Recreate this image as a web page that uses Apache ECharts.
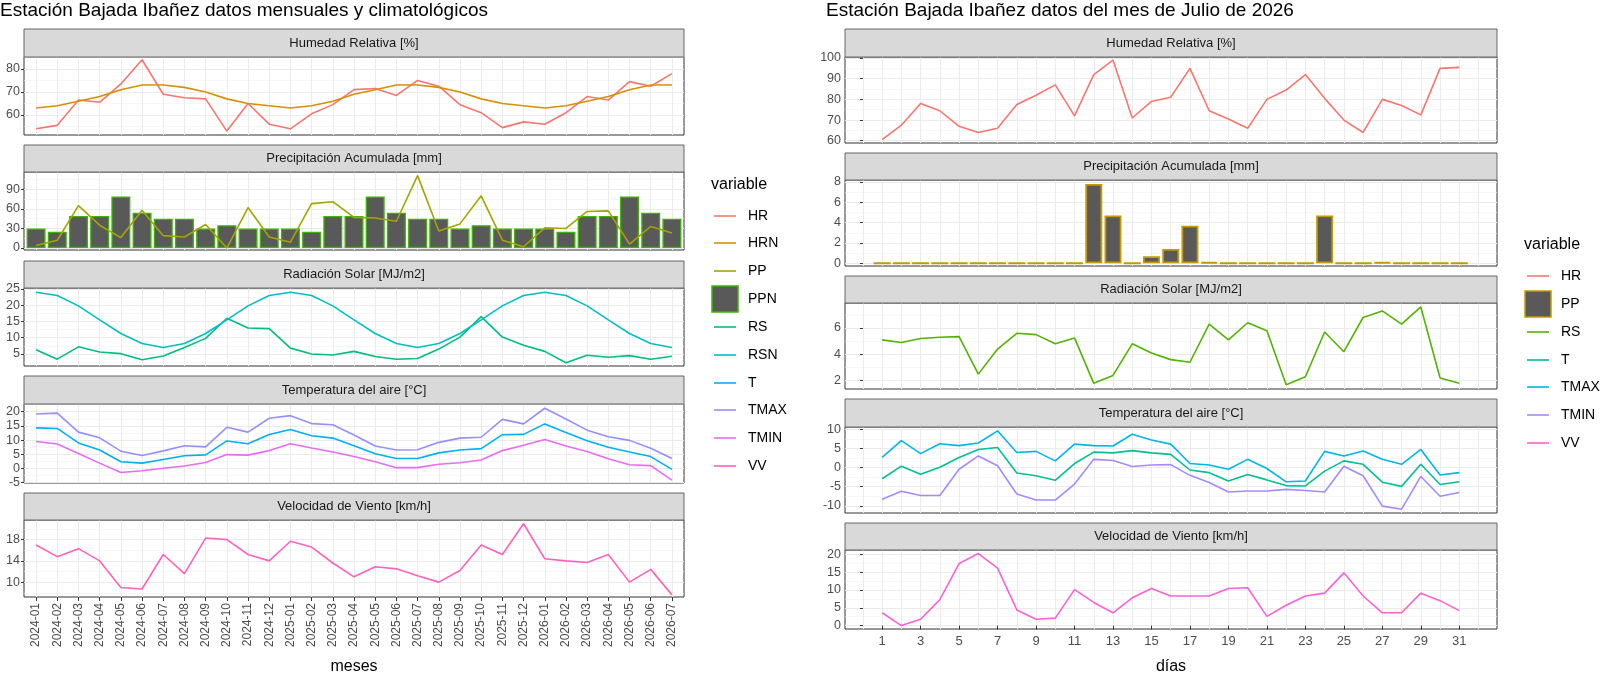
<!DOCTYPE html>
<html><head><meta charset="utf-8">
<script src="https://cdn.jsdelivr.net/npm/echarts@6/dist/echarts.min.js"></script>
<style>html,body{margin:0;padding:0;background:#fff}#c{width:1600px;height:676px}</style>
</head><body><div id="c"></div>
<script>
// ---------- DATA ----------
const months = ['2024-01','2024-02','2024-03','2024-04','2024-05','2024-06','2024-07','2024-08','2024-09','2024-10','2024-11','2024-12',
 '2025-01','2025-02','2025-03','2025-04','2025-05','2025-06','2025-07','2025-08','2025-09','2025-10','2025-11','2025-12',
 '2026-01','2026-02','2026-03','2026-04','2026-05','2026-06','2026-07'];
const mHR  = [54,55.5,66.5,65.5,73.5,84,69,67.5,67,53,65,56,54,60.5,64.5,71,71.5,68.5,75,72.5,64.5,61,54.5,57,56,61,68,66.5,74.5,72.5,78];
const mHRN = [63,64,66,68,71,73,73,72,70,67,65,64,63,64,66,69,71,73,73,72,70,67,65,64,63,64,66,68,71,73,73];
const mPP  = [4,12,65,35,16,58,19,17,36,0,62,17,9,68,71,47,46,41,111,26,37,80,12,2,31,30,56,57,6,33,23];
const mPPN = [30,25,49,49,79,54,45,45,30,35,30,30,30,25,49,49,79,54,45,45,30,35,30,30,30,25,49,49,79,54,45];
const mRS  = [6.3,3.4,7.2,5.6,5.1,3.2,4.4,7,9.8,16,13,12.8,6.8,5,4.7,5.8,4.2,3.4,3.6,6.5,10.2,16.5,10.2,7.7,5.8,2.3,4.6,4,4.5,3.4,4.3];
const mRSN = [24,23,19.8,15.5,11.3,8.2,7,8.2,11.3,15.5,19.8,23,24,23,19.8,15.5,11.3,8.2,7,8.2,11.3,15.5,19.8,23,24,23,19.8,15.5,11.3,8.2,7];
const mT   = [14.3,14.1,9,6.5,2.4,1.9,3.2,4.5,4.8,9.7,8.7,12,13.7,11.5,10.7,8,5.2,3.5,3.5,5.5,6.5,7,11.9,12,15.7,12.7,9.8,7.5,5.8,4.2,-0.3];
const mTMAX= [19.2,19.5,12.8,10.8,6.1,4.6,6.2,8,7.6,14.5,12.8,17.7,18.6,15.8,15.4,11.8,7.9,6.5,6.6,9.2,10.7,11,17.3,15.7,21.2,17.4,13.5,11.2,9.9,7.1,3.5];
const mTMIN= [9.5,8.6,5.3,1.9,-1.4,-0.8,0.1,0.9,2.1,4.9,4.7,6.3,8.7,7.2,5.8,4.2,2.4,0.3,0.3,1.5,2,3,6.3,8.2,10.2,7.9,6,3.4,1.3,1,-4.1];
const mVV  = [17,14.8,16.3,14,9,8.7,15.2,11.6,18.3,18,15.2,14,17.7,16.6,13.6,11,12.9,12.5,11.2,10,12.2,17,15.2,21,14.4,14,13.7,15.2,10,12.4,7.6];

const days = [1,2,3,4,5,6,7,8,9,10,11,12,13,14,15,16,17,18,19,20,21,22,23,24,25,26,27,28,29,30,31];
const dHR  = [60.5,67.5,78,74.5,67,64,66,77.5,82,87,72,92,99,71,79,81,95,74.5,70.5,66,80,84.5,92,80.5,70,64,80,77,72.5,95,95.5];
const dPP  = [0,0,0,0,0,0,0,0,0,0,0,7.8,4.7,0,0.7,1.4,3.7,0.1,0,0,0,0,0,4.7,0,0,0.1,0,0,0,0];
const dRS  = [5.1,4.9,5.2,5.3,5.35,2.5,4.4,5.6,5.5,4.8,5.25,1.8,2.4,4.8,4.1,3.6,3.4,6.3,5.1,6.4,5.8,1.7,2.3,5.7,4.2,6.8,7.3,6.3,7.6,2.2,1.8];
const dT   = [-2.9,0.4,-1.7,0.1,2.7,4.8,5.3,-1.4,-2.1,-3.3,1.1,4.1,3.9,4.5,3.9,3.5,-0.6,-1.3,-3.5,-1.8,-3.2,-4.7,-4.8,-0.9,1.8,0.9,-3.8,-4.9,0.9,-4.4,-3.7];
const dTMAX= [2.7,7.1,3.7,6.3,5.8,6.5,9.7,4,4.3,1.8,6.2,5.8,5.7,8.8,7.3,6.2,1.1,0.7,-0.4,2.2,-0.2,-3.7,-3.5,4.3,3.1,4.4,2.2,0.9,4.8,-1.9,-1.3];
const dTMIN= [-8.3,-6.2,-7.3,-7.3,-0.4,3.1,0.5,-6.9,-8.5,-8.5,-4.3,2.2,1.9,0.3,0.7,0.8,-2,-3.9,-6.4,-6.1,-6.1,-5.7,-6,-6.4,0.4,-2.1,-10.1,-10.9,-2.3,-7.5,-6.5];
const dVV  = [3.6,0,1.8,7.3,17.4,20.2,16.1,4.4,1.8,2.1,10.1,6.5,3.6,7.8,10.4,8.3,8.3,8.3,10.4,10.6,2.6,5.7,8.3,9.1,14.8,8.3,3.6,3.6,9.1,7,4.2];

// tick labels
const leftTicks = [[60,70,80],[0,30,60,90],[5,10,15,20,25],[-5,0,5,10,15,20],[10,14,18]];
const rightTicks = [[60,70,80,90,100],[0,2,4,6,8],[2,4,6],[-10,-5,0,5,10],[0,5,10,15,20]];
const stripsL = ['Humedad Relativa [%]','Precipitación Acumulada [mm]','Radiación Solar [MJ/m2]','Temperatura del aire [°C]','Velocidad de Viento [km/h]'];
const stripsR = stripsL;

// ---------- LAYOUT ----------
const FONT = 'Liberation Sans, Arial, sans-serif';
const LP = {left:24, width:660, strip:[29,145,261,376,493], top:[57,172,288,404,520], bot:[135,250,366,483,598],
  yr:[[51.3,85.2],[-3,116.5],[1.3,25.3],[-5.1,22.7],[7.2,21.7]]};
const RP = {left:845, width:652, strip:[29,153,276,399,523], top:[57,180,303,427,550], bot:[143,266,389,513,637],
  yr:[[58.9,100.5],[-0.27,8.2],[1.37,7.9],[-11.9,10.7],[-0.95,21.2]]};

const grids=[], xAxes=[], yAxes=[], series=[], graphics=[];
function mids(t){const r=[];for(let i=0;i<t.length-1;i++)r.push((t[i]+t[i+1])/2);
  const d=t.length>1?t[1]-t[0]:1; r.unshift(t[0]-d/2); r.push(t[t.length-1]+d/2); return r;}
const gridLine = {show:true, lineStyle:{color:'#EBEBEB', width:1}};
const minorLine = {show:true, lineStyle:{color:'#F2F2F2', width:0.6}};

function addPanel(P, i, side){
  const gi = grids.length;
  grids.push({left:P.left, top:P.top[i], width:P.width, height:P.bot[i]-P.top[i], show:true, borderColor:'#333', borderWidth:1, backgroundColor:'#fff', z:0});
  const last = i===4;
  let xMain, xMinor;
  if(side==='L'){
    const xv = months.map((m,k)=>k+1);
    xMain = {type:'value', gridIndex:gi, min:0.43, max:31.57, axisLine:{show:false},
      axisTick:{show:last, length:4, lineStyle:{color:'#333'}, customValues:xv},
      axisLabel:{show:last, customValues:xv, rotate:90, color:'#4D4D4D', fontSize:12, fontFamily:FONT, margin:6,
        formatter:v=>months[Math.round(v)-1]||''},
      splitLine:gridLine};
    if(last){ xMain.name='meses'; xMain.nameLocation='middle'; xMain.nameGap=62; xMain.nameTextStyle={fontSize:16,color:'#000',fontFamily:FONT}; }
    xMinor = {type:'value', gridIndex:gi, min:0.43, max:31.57, axisLine:{show:false}, axisTick:{show:false}, axisLabel:{show:false}, splitLine:{show:false}};
  } else {
    const odd = days.filter(d=>d%2===1);
    const even = [0].concat(days.filter(d=>d%2===0)).concat([32]);
    xMain = {type:'value', gridIndex:gi, min:-0.93, max:32.96, axisLine:{show:false},
      axisTick:{show:last, length:4, lineStyle:{color:'#333'}, customValues:odd},
      axisLabel:{show:last, customValues:odd, color:'#4D4D4D', fontSize:13, fontFamily:FONT, margin:6},
      splitLine:gridLine};
    if(last){ xMain.name='días'; xMain.nameLocation='middle'; xMain.nameGap=30; xMain.nameTextStyle={fontSize:16,color:'#000',fontFamily:FONT}; }
    xMinor = {type:'value', gridIndex:gi, min:-0.93, max:32.96, axisLine:{show:false}, axisTick:{show:false, customValues:even},
      axisLabel:{show:false, customValues:even}, splitLine:gridLine};
  }
  xAxes.push(xMain, xMinor);
  const ticks = (side==='L'?leftTicks:rightTicks)[i];
  const yr = P.yr[i];
  yAxes.push({type:'value', gridIndex:gi, min:yr[0], max:yr[1], axisLine:{show:false},
    axisTick:{show:true, length:3, lineStyle:{color:'#333'}, customValues:ticks},
    axisLabel:{customValues:ticks, color:'#4D4D4D', fontSize:12.5, fontFamily:FONT, margin:4},
    splitLine:gridLine});
  const mt = mids(ticks);
  yAxes.push({type:'value', gridIndex:gi, min:yr[0], max:yr[1], axisLine:{show:false},
    axisTick:{show:false, customValues:mt}, axisLabel:{show:false, customValues:mt}, splitLine:minorLine});
  const s = (side==='L'?stripsL:stripsR)[i];
  graphics.push({type:'rect', shape:{x:P.left, y:P.strip[i], width:P.width, height:P.top[i]-P.strip[i]},
    style:{fill:'#D9D9D9', stroke:'#666', lineWidth:1}, z:10});
  graphics.push({type:'text', x:P.left+P.width/2, y:(P.strip[i]+P.top[i])/2,
    style:{text:s, fill:'#1A1A1A', font:'13px '+FONT, align:'center', verticalAlign:'middle'}, z:11});
  return gi;
}
function line(gi, xs, ys, color){
  series.push({type:'line', xAxisIndex:2*gi, yAxisIndex:2*gi, data:ys.map((v,k)=>[xs[k],v]),
    symbol:'none', lineStyle:{color, width:1.6}, itemStyle:{color}, z:5, animation:false});
}
function bar(gi, xs, ys, border, w, bw){
  series.push({type:'bar', xAxisIndex:2*gi, yAxisIndex:2*gi, data:ys.map((v,k)=>[xs[k],v]), barWidth:w,
    itemStyle:{color:'#595959', borderColor:border, borderWidth:bw}, z:3, animation:false});
}
const mx = months.map((m,k)=>k+1);
let g;
g=addPanel(LP,0,'L'); line(g,mx,mHR,'#F8766D'); line(g,mx,mHRN,'#D89000');
g=addPanel(LP,1,'L'); bar(g,mx,mPPN,'#39B600',19,1.3); line(g,mx,mPP,'#A3A500');
g=addPanel(LP,2,'L'); line(g,mx,mRS,'#00BF7D'); line(g,mx,mRSN,'#00BFC4');
g=addPanel(LP,3,'L'); line(g,mx,mT,'#00B0F6'); line(g,mx,mTMAX,'#9590FF'); line(g,mx,mTMIN,'#E76BF3');
g=addPanel(LP,4,'L'); line(g,mx,mVV,'#FF62BC');
g=addPanel(RP,0,'R'); line(g,days,dHR,'#F8766D');
g=addPanel(RP,1,'R'); bar(g,days,dPP,'#C49A00',17,1.8);
g=addPanel(RP,2,'R'); line(g,days,dRS,'#53B400');
g=addPanel(RP,3,'R'); line(g,days,dT,'#00C094'); line(g,days,dTMAX,'#00B6EB'); line(g,days,dTMIN,'#A58AFF');
g=addPanel(RP,4,'R'); line(g,days,dVV,'#FB61D7');

graphics.push({type:'text', x:0, y:11, style:{text:'Estación Bajada Ibañez datos mensuales y climatológicos', fill:'#000', font:'19px '+FONT, verticalAlign:'middle'}});
graphics.push({type:'text', x:826, y:11, style:{text:'Estación Bajada Ibañez datos del mes de Julio de 2026', fill:'#000', font:'19px '+FONT, verticalAlign:'middle'}});

function legend(x, yTitle, items, ys){
  graphics.push({type:'text', x:x, y:yTitle, style:{text:'variable', fill:'#000', font:'16px '+FONT, verticalAlign:'middle'}});
  items.forEach((it,k)=>{
    const y = ys[k];
    if(it.box){
      graphics.push({type:'rect', shape:{x:x+1, y:y-13, width:26, height:26}, style:{fill:'#595959', stroke:it.c, lineWidth:1.5}});
    } else {
      graphics.push({type:'line', shape:{x1:x+3, y1:y, x2:x+25, y2:y}, style:{stroke:it.c, lineWidth:1.6}});
    }
    graphics.push({type:'text', x:x+37, y:y, style:{text:it.n, fill:'#000', font:'14px '+FONT, verticalAlign:'middle'}});
  });
}
legend(711,185,[{n:'HR',c:'#F8766D'},{n:'HRN',c:'#D89000'},{n:'PP',c:'#A3A500'},{n:'PPN',c:'#39B600',box:1},{n:'RS',c:'#00BF7D'},
  {n:'RSN',c:'#00BFC4'},{n:'T',c:'#00B0F6'},{n:'TMAX',c:'#9590FF'},{n:'TMIN',c:'#E76BF3'},{n:'VV',c:'#FF62BC'}],
  [216,243,271,299,327,355,383,410,438,466]);
legend(1524,245,[{n:'HR',c:'#F8766D'},{n:'PP',c:'#C49A00',box:1},{n:'RS',c:'#53B400'},{n:'T',c:'#00C094'},
  {n:'TMAX',c:'#00B6EB'},{n:'TMIN',c:'#A58AFF'},{n:'VV',c:'#FB61D7'}],[276,304,332,360,387,415,443]);

const chart = echarts.init(document.getElementById('c'));
chart.setOption({animation:false, grid:grids, xAxis:xAxes, yAxis:yAxes, series, graphic:graphics});
</script></body></html>
